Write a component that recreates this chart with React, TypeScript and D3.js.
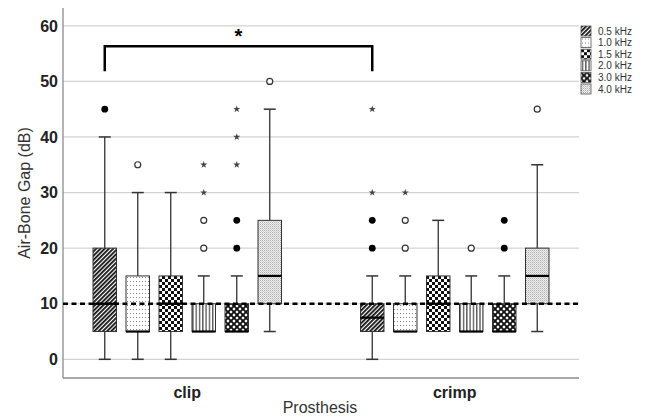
import React, { useEffect, useRef } from 'react';
import * as d3 from 'd3';

const categories = ['clip', 'crimp'];
const frequencies = ['0.5 kHz', '1.0 kHz', '1.5 kHz', '2.0 kHz', '3.0 kHz', '4.0 kHz'];
const yTicks = [0, 10, 20, 30, 40, 50, 60];

// [min, q1, median, q3, max] for each frequency
const clipStats = [
  [0, 5, 10, 20, 40],
  [0, 5, 5, 15, 30],
  [0, 5, 10, 15, 30],
  [5, 5, 5, 10, 15],
  [5, 5, 5, 10, 15],
  [5, 10, 15, 25, 45],
];
const crimpStats = [
  [0, 5, 7.5, 10, 15],
  [5, 5, 5, 10, 15],
  [5, 5, 10, 15, 25],
  [5, 5, 5, 10, 15],
  [5, 5, 5, 10, 15],
  [5, 10, 15, 20, 35],
];

// outliers: filled circles, open circles, extremes (stars)
const clipFilled = [[45], [], [], [], [20, 25], []];
const clipOpen = [[], [35], [], [20, 25], [], [50]];
const clipStars = [[], [], [], [30, 35], [35, 40, 45], []];
const crimpFilled = [[20, 25], [], [], [], [20, 25], []];
const crimpOpen = [[], [20, 25], [], [20], [], [45]];
const crimpStars = [[30, 45], [30], [], [], [], []];

const referenceLevel = 10;
const bracketTop = 56.3;
const bracketBottom = 51.8;

const patternIds = ['p05', 'p10', 'p15', 'p20', 'p30', 'p40'];

export default function App() {
  const svgRef = useRef<SVGSVGElement>(null);

  useEffect(() => {
    if (!svgRef.current) return;
    const svg = d3.select(svgRef.current);
    svg.selectAll('*').remove();

    const left = 63, right = 579, top = 8, bottom = 378;
    const font = 'Liberation Sans, Arial, sans-serif';

    const x = d3.scalePoint<string>().domain(categories).range([left, right]).padding(0.4645);
    const xf = d3.scaleBand<string>().domain(frequencies).range([-99, 99])
      .paddingInner(0.288).paddingOuter(0.144);
    const y = d3.scaleLinear().domain([-3.36, 63.2]).range([bottom, top]);

    // fill patterns
    const defs = svg.append('defs');
    const p05 = defs.append('pattern').attr('id', 'p05').attr('patternUnits', 'userSpaceOnUse')
      .attr('width', 3).attr('height', 3).attr('patternTransform', 'rotate(45)');
    p05.append('rect').attr('width', 3).attr('height', 3).attr('fill', '#fff');
    p05.append('rect').attr('width', 1.8).attr('height', 3).attr('fill', '#111');

    const p10 = defs.append('pattern').attr('id', 'p10').attr('patternUnits', 'userSpaceOnUse')
      .attr('width', 3).attr('height', 4);
    p10.append('rect').attr('width', 3).attr('height', 4).attr('fill', '#fff');
    p10.append('rect').attr('x', 1).attr('y', 1).attr('width', 1).attr('height', 1).attr('fill', '#888');

    const p15 = defs.append('pattern').attr('id', 'p15').attr('patternUnits', 'userSpaceOnUse')
      .attr('width', 6).attr('height', 6);
    p15.append('rect').attr('width', 6).attr('height', 6).attr('fill', '#fff');
    p15.append('rect').attr('width', 3).attr('height', 3).attr('fill', '#111');
    p15.append('rect').attr('x', 3).attr('y', 3).attr('width', 3).attr('height', 3).attr('fill', '#111');

    const p20 = defs.append('pattern').attr('id', 'p20').attr('patternUnits', 'userSpaceOnUse')
      .attr('width', 3.3).attr('height', 4);
    p20.append('rect').attr('width', 3.3).attr('height', 4).attr('fill', '#fff');
    p20.append('rect').attr('x', 1).attr('width', 1.1).attr('height', 4).attr('fill', '#333');

    const p30 = defs.append('pattern').attr('id', 'p30').attr('patternUnits', 'userSpaceOnUse')
      .attr('width', 6).attr('height', 6);
    p30.append('rect').attr('width', 6).attr('height', 6).attr('fill', '#fff');
    p30.append('path').attr('d', 'M0,0 L6,6 M6,0 L0,6 M-1,5 L1,7 M5,-1 L7,1 M-1,1 L1,-1 M5,7 L7,5')
      .attr('stroke', '#111').attr('stroke-width', 1.9);
    p30.append('circle').attr('cx', 3).attr('cy', 3).attr('r', 1.3).attr('fill', '#111');

    const p40 = defs.append('pattern').attr('id', 'p40').attr('patternUnits', 'userSpaceOnUse')
      .attr('width', 2).attr('height', 2);
    p40.append('rect').attr('width', 2).attr('height', 2).attr('fill', '#eeeeee');
    p40.append('rect').attr('width', 1).attr('height', 1).attr('fill', '#b0b0b0');
    p40.append('rect').attr('x', 1).attr('y', 1).attr('width', 1).attr('height', 1).attr('fill', '#cfcfcf');

    // grid lines
    svg.append('g').selectAll('line').data(yTicks).join('line')
      .attr('x1', left).attr('x2', right)
      .attr('y1', d => y(d)).attr('y2', d => y(d))
      .attr('stroke', '#d3d3d3').attr('stroke-width', 1.2);

    // axes lines
    svg.append('line').attr('x1', left).attr('x2', left).attr('y1', top).attr('y2', bottom)
      .attr('stroke', '#8c8c8c').attr('stroke-width', 1.3);
    svg.append('line').attr('x1', left).attr('x2', right).attr('y1', bottom).attr('y2', bottom)
      .attr('stroke', '#8c8c8c').attr('stroke-width', 1.3);

    // y tick labels
    svg.append('g').selectAll('text').data(yTicks).join('text')
      .attr('x', 58).attr('y', d => y(d)).attr('dy', '0.36em')
      .attr('text-anchor', 'end').attr('font-family', font).attr('font-weight', 'bold')
      .attr('font-size', 16).attr('fill', '#222').text(d => d);

    // category labels
    svg.append('g').selectAll('text').data(categories).join('text')
      .attr('x', d => x(d)!).attr('y', 398).attr('text-anchor', 'middle')
      .attr('font-family', font).attr('font-weight', 'bold').attr('font-size', 16)
      .attr('fill', '#222').text(d => d);

    svg.append('text').attr('x', 320).attr('y', 413).attr('text-anchor', 'middle')
      .attr('font-family', font).attr('font-size', 16).attr('fill', '#333').text('Prosthesis');

    svg.append('text').attr('transform', `translate(30,${(top + bottom) / 2}) rotate(-90)`)
      .attr('text-anchor', 'middle').attr('font-family', font).attr('font-size', 16)
      .attr('fill', '#333').text('Air-Bone Gap (dB)');

    // boxes
    const groups = [
      { cat: 'clip', stats: clipStats, filled: clipFilled, open: clipOpen, stars: clipStars },
      { cat: 'crimp', stats: crimpStats, filled: crimpFilled, open: crimpOpen, stars: crimpStars },
    ];
    const bw = xf.bandwidth();
    const cap = 6;
    const boxLayer = svg.append('g');
    groups.forEach(gr => {
      gr.stats.forEach((s, i) => {
        const f = frequencies[i];
        const x0 = x(gr.cat)! + xf(f)!;
        const cx = x0 + bw / 2;
        const [mn, q1, med, q3, mx] = s;
        const g = boxLayer.append('g');
        if (mx > q3) {
          g.append('line').attr('x1', cx).attr('x2', cx).attr('y1', y(q3)).attr('y2', y(mx))
            .attr('stroke', '#333').attr('stroke-width', 1.3);
          g.append('line').attr('x1', cx - cap).attr('x2', cx + cap).attr('y1', y(mx)).attr('y2', y(mx))
            .attr('stroke', '#333').attr('stroke-width', 1.5);
        }
        if (mn < q1) {
          g.append('line').attr('x1', cx).attr('x2', cx).attr('y1', y(q1)).attr('y2', y(mn))
            .attr('stroke', '#333').attr('stroke-width', 1.3);
          g.append('line').attr('x1', cx - cap).attr('x2', cx + cap).attr('y1', y(mn)).attr('y2', y(mn))
            .attr('stroke', '#333').attr('stroke-width', 1.5);
        }
        g.append('rect').attr('x', x0).attr('y', y(q3)).attr('width', bw).attr('height', y(q1) - y(q3))
          .attr('fill', `url(#${patternIds[i]})`).attr('stroke', '#333').attr('stroke-width', 1);
        g.append('line').attr('x1', x0).attr('x2', x0 + bw).attr('y1', y(med)).attr('y2', y(med))
          .attr('stroke', '#000').attr('stroke-width', 2.2);
      });
    });

    // reference line
    svg.append('line').attr('x1', left).attr('x2', right)
      .attr('y1', y(referenceLevel)).attr('y2', y(referenceLevel))
      .attr('stroke', '#000').attr('stroke-width', 2.6).attr('stroke-dasharray', '5,3.5');

    // outliers
    const outLayer = svg.append('g');
    const star = d3.symbol().type(d3.symbolStar).size(16)();
    groups.forEach(gr => {
      frequencies.forEach((f, i) => {
        const cx = x(gr.cat)! + xf(f)! + bw / 2;
        gr.filled[i].forEach(v => {
          outLayer.append('circle').attr('cx', cx).attr('cy', y(v)).attr('r', 3.4).attr('fill', '#000');
        });
        gr.open[i].forEach(v => {
          outLayer.append('circle').attr('cx', cx).attr('cy', y(v)).attr('r', 3)
            .attr('fill', '#fff').attr('stroke', '#333').attr('stroke-width', 1.2);
        });
        gr.stars[i].forEach(v => {
          outLayer.append('path').attr('d', star).attr('transform', `translate(${cx},${y(v)})`)
            .attr('fill', '#444');
        });
      });
    });

    // significance bracket between 0.5 kHz boxes
    const bx1 = x('clip')! + xf(frequencies[0])! + bw / 2;
    const bx2 = x('crimp')! + xf(frequencies[0])! + bw / 2;
    svg.append('path')
      .attr('d', `M${bx1},${y(bracketBottom)} V${y(bracketTop)} H${bx2} V${y(bracketBottom)}`)
      .attr('fill', 'none').attr('stroke', '#000').attr('stroke-width', 2.5);
    svg.append('text').attr('x', (bx1 + bx2) / 2).attr('y', y(bracketTop) - 3)
      .attr('text-anchor', 'middle').attr('font-family', font).attr('font-weight', 'bold')
      .attr('font-size', 20).attr('fill', '#000').text('*');

    // legend
    const legend = svg.append('g').attr('transform', 'translate(581,26)');
    frequencies.forEach((f, i) => {
      const row = legend.append('g').attr('transform', `translate(0,${i * 11.6})`);
      row.append('rect').attr('width', 10).attr('height', 10)
        .attr('fill', `url(#${patternIds[i]})`).attr('stroke', '#555').attr('stroke-width', 0.8);
      row.append('text').attr('x', 17).attr('y', 5).attr('dy', '0.36em')
        .attr('font-family', font).attr('font-size', 10).attr('fill', '#333').text(f);
    });
  }, []);

  return (
    <svg ref={svgRef} width={648} height={420}
      style={{ position: 'absolute', left: 0, top: 0, background: '#fff' }} />
  );
}
